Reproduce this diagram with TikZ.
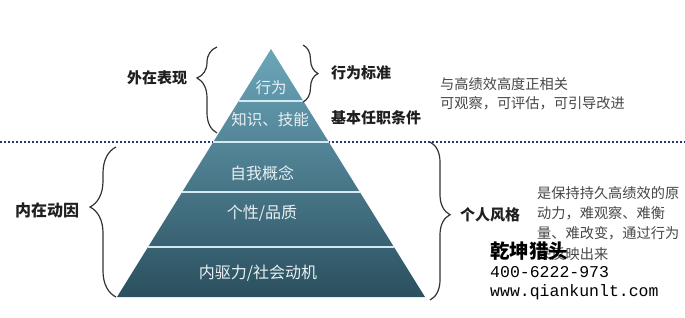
\documentclass[tikz,border=0pt]{standalone}
\usepackage{fontspec}
\setmainfont{Noto Sans CJK SC}
\newfontfamily\monofam{Liberation Mono}
\usetikzlibrary{decorations.pathreplacing,calc}
\definecolor{pyrtop}{HTML}{6CA6BA}
\definecolor{pyrmid}{HTML}{4A7E90}
\definecolor{pyrbot}{HTML}{2B505F}
\definecolor{dotnavy}{HTML}{2A3474}
\definecolor{septint}{HTML}{D2EAF2}
\definecolor{notegray}{HTML}{474747}
\definecolor{intext}{HTML}{E8F0F3}
\begin{document}
\begin{tikzpicture}[x=1pt,y=-1pt,
  lbl/.style={inner sep=0, text=black!88, font=\fontsize{15}{15}\selectfont\bfseries},
  inlbl/.style={inner sep=0, text=intext, font=\fontsize{15.5}{16}\selectfont},
  note/.style={inner sep=0, anchor=west, text=notegray, font=\fontsize{14.2}{15}\selectfont},
  sepline/.style={draw=septint, line width=1.8pt},
  brc/.style={draw=black!80, line width=1.2pt, decorate},
  wmark/.style={inner sep=0, anchor=west, text=black}
]
\useasboundingbox (0,0) rectangle (685,317);
\fill[white] (0,0) rectangle (685,317);

% dotted horizon
\coordinate (dl) at (0,142);
\coordinate (dr) at (685,142);
\draw[dotnavy, line width=2.2pt, dash pattern=on 2pt off 2pt] (dl) -- (dr);

% pyramid
\coordinate (apex) at (271,49);
\coordinate (bl) at (117,297);
\coordinate (br) at (425,297);
\shade[top color=pyrtop, middle color=pyrmid, bottom color=pyrbot] (apex) -- (br) -- (bl) -- cycle;
\foreach \f in {0.2097,0.375,0.5766,0.7984}
  \draw[sepline] ($(apex)!\f!(bl)$) -- ($(apex)!\f!(br)$);

% layer texts
\node[inlbl] (l1) at (271,88) {行为};
\node[inlbl] (l2) at (270,120) {知识、技能};
\node[inlbl, font=\fontsize{16}{16}\selectfont] (l3) at (262,173) {自我概念};
\node[inlbl, font=\fontsize{16}{16}\selectfont] (l4) at (262,213) {个性/品质};
\node[inlbl, font=\fontsize{16}{16}\selectfont] (l5) at (258,273) {内驱力/社会动机};

% braces
\coordinate (b1s) at (217,133); \coordinate (b1e) at (217,47);
\draw[brc, decoration={brace, amplitude=20pt, aspect=0.64}] (b1s) -- (b1e);
\coordinate (b2s) at (303,45); \coordinate (b2e) at (303,102);
\draw[brc, decoration={brace, amplitude=15pt, aspect=0.5}] (b2s) -- (b2e);
\coordinate (b3s) at (430,142); \coordinate (b3e) at (430,300);
\draw[brc, decoration={brace, amplitude=20pt, aspect=0.46}] (b3s) -- (b3e);
\coordinate (b4s) at (116,297); \coordinate (b4e) at (116,147);
\draw[brc, decoration={brace, amplitude=26pt, aspect=0.6}] (b4s) -- (b4e);

% labels
\node[lbl] (wz) at (157,78) {外在表现};
\node[lbl, anchor=west] (xw) at (331,73) {行为标准};
\node[lbl, anchor=west] (jb) at (331,118) {基本任职条件};
\node[lbl, anchor=west] (gr) at (460,215) {个人风格};
\node[lbl, font=\fontsize{16}{16}\selectfont\bfseries] (nz) at (47,210) {内在动因};

% notes
\node[note] (n1) at (440,84) {与高绩效高度正相关};
\node[note] (n2) at (440,103) {可观察，可评估，可引导改进};
\node[note] (m1) at (537,193) {是保持持久高绩效的原};
\node[note] (m2) at (537,213) {动力，难观察、难衡};
\node[note] (m3) at (537,233) {量、难改变，通过行为};
\node[note] (m4) at (537,254) {来反映出来};

% watermark
\node[wmark, font=\fontsize{19.5}{20}\selectfont\bfseries] (w1) at (490,251) {乾坤猎头};
\node[wmark, font=\monofam\fontsize{16.5}{17}\selectfont] (w2) at (490,272) {400-6222-973};
\node[wmark, font=\monofam\fontsize{16.5}{17}\selectfont] (w3) at (490,292) {www.qiankunlt.com};
\end{tikzpicture}
\end{document}
